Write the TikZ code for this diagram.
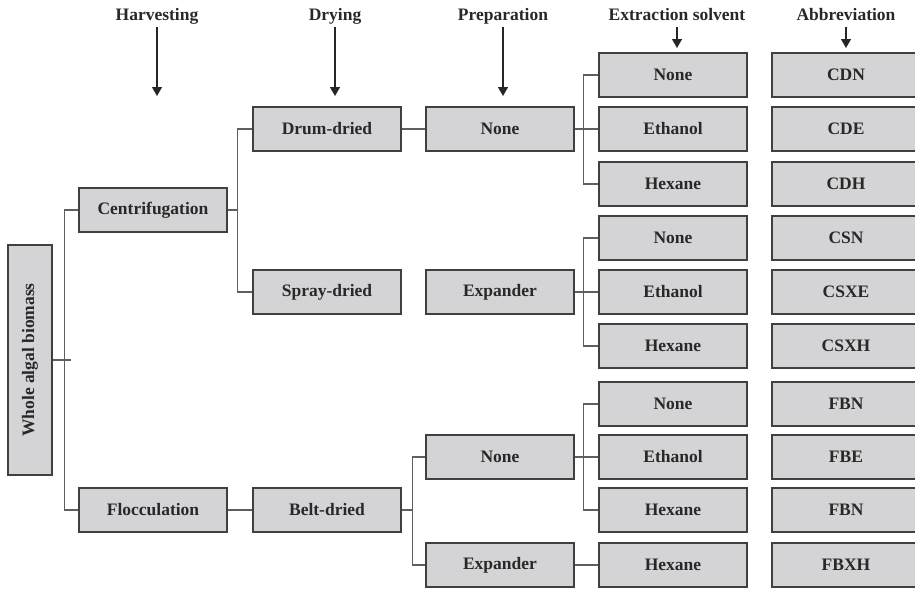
\documentclass[tikz,border=0pt]{standalone}
\usepackage{fontspec}
\setmainfont{Liberation Serif}
\usetikzlibrary{arrows.meta}
\definecolor{boxgray}{RGB}{212,212,214}
\definecolor{linegray}{RGB}{95,95,95}
\definecolor{textgray}{RGB}{40,40,40}
\begin{document}
\begin{tikzpicture}[x=1pt,y=-1pt,
	font=\fontsize{17.5}{20}\selectfont\bfseries,
	box/.style={draw=black!75, line width=1.6pt, fill=boxgray, text=textgray,
		minimum width=148pt, minimum height=44pt, inner sep=0pt},
	link/.style={draw=linegray, line width=1.3pt},
	head/.style={text=textgray, text height=12pt, text depth=4pt, inner sep=3pt},
	down/.style={draw=black!85, line width=1.3pt, -{Triangle[width=10pt,length=9pt]}}]
	\clip (0,0) rectangle (915,590);
	% column heads
	\node (hHarv) at (157, 16)	[head]	{Harvesting};
	\node (hDry)  at (335, 16)	[head]	{Drying};
	\node (hPrep) at (503, 16)	[head]	{Preparation};
	\node (hSolv) at (677, 16)	[head]	{Extraction solvent};
	\node (hAbbr) at (846, 16)	[head]	{Abbreviation};
	\coordinate (tHarv) at (157, 96);
	\coordinate (tDry)  at (335, 96);
	\coordinate (tPrep) at (503, 96);
	\coordinate (tSolv) at (677, 48);
	\coordinate (tAbbr) at (846, 48);
	\draw[down] (hHarv.south) -- (tHarv);
	\draw[down] (hDry.south)  -- (tDry);
	\draw[down] (hPrep.south) -- (tPrep);
	\draw[down] (hSolv.south) -- (tSolv);
	\draw[down] (hAbbr.south) -- (tAbbr);
	% biomass, harvesting, drying
	\node (WAB)   at ( 30, 360)	[box, minimum width=44pt, minimum height=230pt]	{\rotatebox{90}{Whole algal biomass}};
	\node (Cent)  at (153, 210)	[box]	{Centrifugation};
	\node (Floc)  at (153, 510)	[box]	{Flocculation};
	\node (Drum)  at (327, 129)	[box]	{Drum-dried};
	\node (Spray) at (327, 292)	[box]	{Spray-dried};
	\node (Belt)  at (327, 510)	[box]	{Belt-dried};
	% preparation
	\node (PN1)   at (500, 129)	[box]	{None};
	\node (PX1)   at (500, 292)	[box]	{Expander};
	\node (PN2)   at (500, 457)	[box]	{None};
	\node (PX2)   at (500, 565)	[box]	{Expander};
	% extraction solvent
	\node (EN1)   at (673,  75)	[box]	{None};
	\node (EE1)   at (673, 129)	[box]	{Ethanol};
	\node (EH1)   at (673, 184)	[box]	{Hexane};
	\node (EN2)   at (673, 238)	[box]	{None};
	\node (EE2)   at (673, 292)	[box]	{Ethanol};
	\node (EH2)   at (673, 346)	[box]	{Hexane};
	\node (EN3)   at (673, 404)	[box]	{None};
	\node (EE3)   at (673, 457)	[box]	{Ethanol};
	\node (EH3)   at (673, 510)	[box]	{Hexane};
	\node (EH4)   at (673, 565)	[box]	{Hexane};
	% abbreviation
	\node (CDN)   at (846,  75)	[box]	{CDN};
	\node (CDE)   at (846, 129)	[box]	{CDE};
	\node (CDH)   at (846, 184)	[box]	{CDH};
	\node (CSN)   at (846, 238)	[box]	{CSN};
	\node (CSXE)  at (846, 292)	[box]	{CSXE};
	\node (CSXH)  at (846, 346)	[box]	{CSXH};
	\node (FBN)   at (846, 404)	[box]	{FBN};
	\node (FBE)   at (846, 457)	[box]	{FBE};
	\node (FBNb)  at (846, 510)	[box]	{FBN};
	\node (FBXH)  at (846, 565)	[box]	{FBXH};
	% connectors
	\draw[link] (WAB.east) -- ++(18,0);
	\draw[link] (Cent.west) -- ++(-14,0) |- (Floc.west);
	\draw[link] (Cent.east) -- ++(10,0);
	\draw[link] (Drum.west) -- ++(-15,0) |- (Spray.west);
	\draw[link] (Drum.east) -- (PN1.west);
	\draw[link] (Floc.east) -- (Belt.west);
	\draw[link] (Belt.east) -- ++(11,0);
	\draw[link] (PN2.west) -- ++(-13,0) |- (PX2.west);
	\draw[link] (PN1.east) -- ++(10,0);
	\draw[link] (EN1.west) -- ++(-15,0) |- (EH1.west);
	\draw[link] (EE1.west) -- ++(-15,0);
	\draw[link] (PX1.east) -- ++(10,0);
	\draw[link] (EN2.west) -- ++(-15,0) |- (EH2.west);
	\draw[link] (EE2.west) -- ++(-15,0);
	\draw[link] (PN2.east) -- ++(10,0);
	\draw[link] (EN3.west) -- ++(-15,0) |- (EH3.west);
	\draw[link] (EE3.west) -- ++(-15,0);
	\draw[link] (PX2.east) -- (EH4.west);
\end{tikzpicture}
\end{document}
